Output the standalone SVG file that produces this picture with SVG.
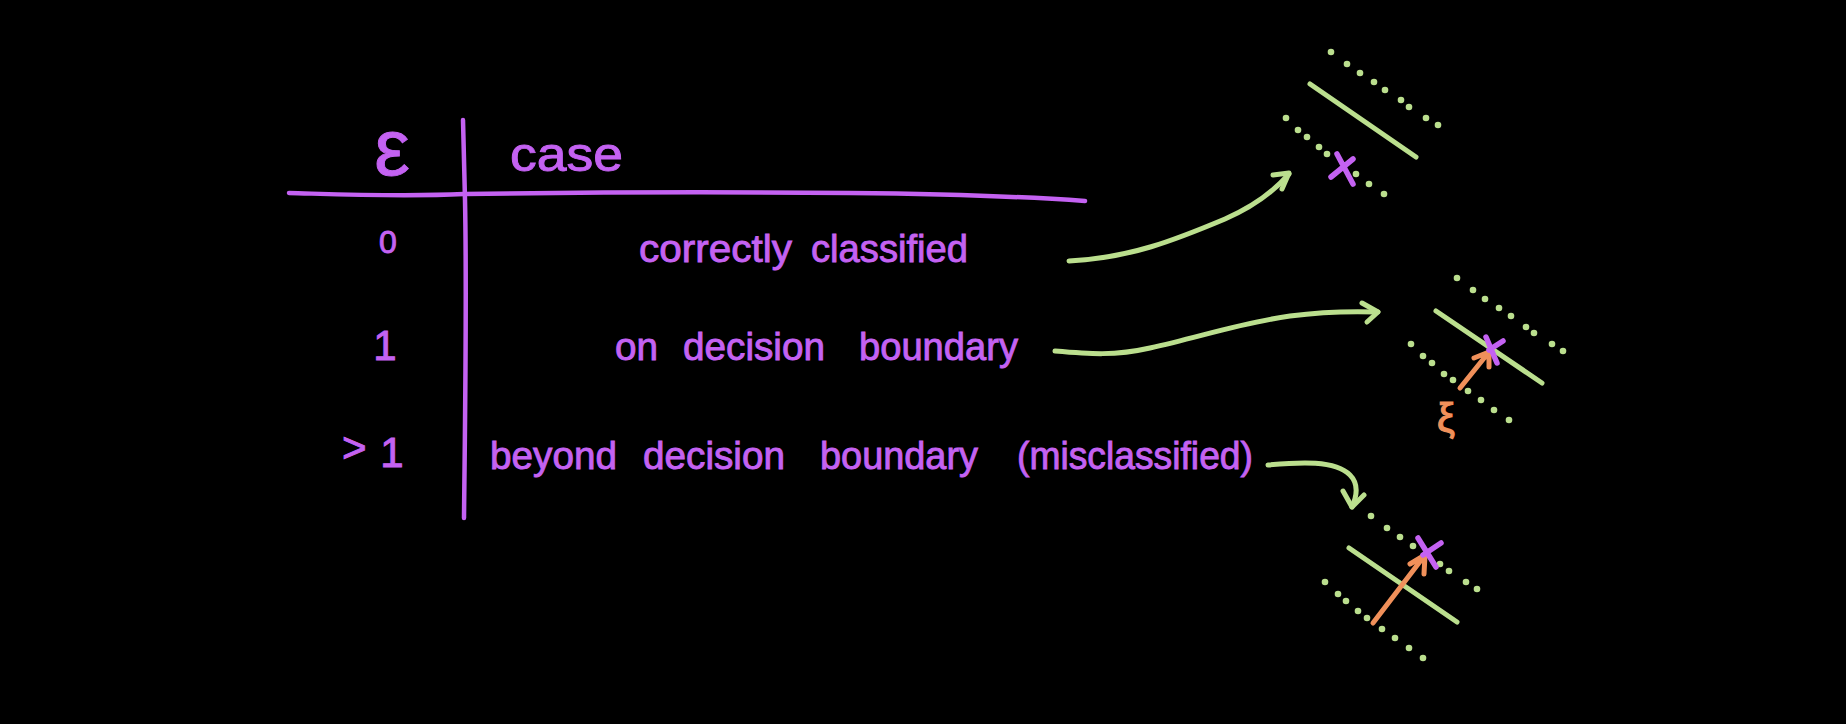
<svg xmlns="http://www.w3.org/2000/svg" width="1846" height="724" viewBox="0 0 1846 724">
<style>
.bg{fill:#000}
.p{fill:#c462f2;stroke:#c462f2;stroke-width:0.9;font-family:"Liberation Sans",Arial,sans-serif;font-size:39px}
.pl{fill:none;stroke:#c462f2;stroke-width:4.5;stroke-linecap:round;stroke-linejoin:round}
.gl{fill:none;stroke:#bbdf8e;stroke-width:5;stroke-linecap:round;stroke-linejoin:round}
.ol{fill:none;stroke:#f0905a;stroke-width:5;stroke-linecap:round;stroke-linejoin:round}
.xl{fill:none;stroke:#c462f2;stroke-width:5.5;stroke-linecap:round}
.d{fill:#bbdf8e}
.o{fill:#f0905a;stroke:#f0905a;stroke-width:1.2;font-family:"Liberation Sans",Arial,sans-serif;font-size:40px}
</style>
<rect class="bg" x="0" y="0" width="1846" height="724"/>

<g id="table">
  <path class="pl" d="M289,193 C330,194 400,197 464,194 C600,192 750,192 850,193 C950,194 1030,197 1085,201"/>
  <path class="pl" d="M463,120 L465,200 C467,300 465,420 464,518"/>
</g>

<g id="header">
  <text class="p" x="392" y="175" style="font-size:80px" text-anchor="middle">ε</text>
  <text class="p" x="510" y="171" style="font-size:48px" textLength="113" lengthAdjust="spacingAndGlyphs">case</text>
</g>

<g id="row0">
  <text class="p" x="388" y="253" style="font-size:32px" text-anchor="middle">0</text>
  <text class="p" y="262"><tspan x="639" textLength="153" lengthAdjust="spacingAndGlyphs">correctly</tspan><tspan x="811" textLength="157" lengthAdjust="spacingAndGlyphs">classified</tspan></text>
</g>

<g id="row1">
  <text class="p" x="385" y="360" style="font-size:42px" text-anchor="middle">1</text>
  <text class="p" y="360"><tspan x="615" textLength="43" lengthAdjust="spacingAndGlyphs">on</tspan><tspan x="683" textLength="142" lengthAdjust="spacingAndGlyphs">decision</tspan><tspan x="859" textLength="159" lengthAdjust="spacingAndGlyphs">boundary</tspan></text>
</g>

<g id="row2">
  <text class="p" style="font-size:42px"><tspan x="342" y="462">&gt;</tspan><tspan x="392" y="467" text-anchor="middle">1</tspan></text>
  <text class="p" y="469"><tspan x="490" textLength="127" lengthAdjust="spacingAndGlyphs">beyond</tspan><tspan x="643" textLength="142" lengthAdjust="spacingAndGlyphs">decision</tspan><tspan x="820" textLength="158" lengthAdjust="spacingAndGlyphs">boundary</tspan><tspan x="1017" textLength="236" lengthAdjust="spacingAndGlyphs">(misclassified)</tspan></text>
</g>

<g id="connectors">
  <path class="gl" d="M1069,261 C1130,258 1175,240 1225,219 C1255,206 1275,190 1289,174"/>
  <path class="gl" d="M1273,175 L1289,173 L1282,189"/>
  <path class="gl" d="M1055,351 C1090,354 1115,356 1150,348 C1200,337 1240,323 1290,316 C1320,312 1350,311 1378,312"/>
  <path class="gl" d="M1362,303 L1378,312 L1367,322"/>
  <path class="gl" d="M1268,465 C1300,462 1335,460 1350,475 C1360,485 1356,498 1352,507"/>
  <path class="gl" d="M1343,491 L1352,507 L1364,495"/>
</g>

<g id="diagram-correct">
  <path class="gl" d="M1310,84 L1416,157"/>
  <circle class="d" cx="1331" cy="52" r="3.3"/><circle class="d" cx="1347" cy="64" r="3.3"/><circle class="d" cx="1360" cy="73" r="3.3"/><circle class="d" cx="1374" cy="82" r="3.3"/><circle class="d" cx="1385" cy="90" r="3.3"/><circle class="d" cx="1401" cy="100" r="3.3"/><circle class="d" cx="1409" cy="107" r="3.3"/><circle class="d" cx="1426" cy="118" r="3.3"/><circle class="d" cx="1438" cy="125" r="3.3"/>
  <circle class="d" cx="1286" cy="118" r="3.3"/><circle class="d" cx="1298" cy="130" r="3.3"/><circle class="d" cx="1307" cy="137" r="3.3"/><circle class="d" cx="1319" cy="147" r="3.3"/><circle class="d" cx="1327" cy="154" r="3.3"/><circle class="d" cx="1356" cy="174" r="3.3"/><circle class="d" cx="1369" cy="184" r="3.3"/><circle class="d" cx="1384" cy="194" r="3.3"/>
  <path class="xl" d="M1337,154 L1353,184 M1331,177 L1353,159"/>
</g>

<g id="diagram-boundary">
  <path class="gl" d="M1436,311 L1542,383"/>
  <circle class="d" cx="1457" cy="278" r="3.3"/><circle class="d" cx="1473" cy="290" r="3.3"/><circle class="d" cx="1485" cy="299" r="3.3"/><circle class="d" cx="1499" cy="308" r="3.3"/><circle class="d" cx="1511" cy="316" r="3.3"/><circle class="d" cx="1526" cy="327" r="3.3"/><circle class="d" cx="1534" cy="333" r="3.3"/><circle class="d" cx="1552" cy="344" r="3.3"/><circle class="d" cx="1563" cy="351" r="3.3"/>
  <circle class="d" cx="1411" cy="344" r="3.3"/><circle class="d" cx="1423" cy="356" r="3.3"/><circle class="d" cx="1432" cy="363" r="3.3"/><circle class="d" cx="1444" cy="374" r="3.3"/><circle class="d" cx="1453" cy="380" r="3.3"/><circle class="d" cx="1468" cy="391" r="3.3"/><circle class="d" cx="1481" cy="400" r="3.3"/><circle class="d" cx="1494" cy="410" r="3.3"/><circle class="d" cx="1509" cy="420" r="3.3"/>
  <path class="ol" d="M1460,388 L1489,352 M1474,358 L1489,352 L1489,367"/>
  <path class="xl" d="M1486,337 L1497,363 M1489,350 L1503,341"/>
  <text class="o" x="1446" y="432" text-anchor="middle">ξ</text>
</g>

<g id="diagram-misclassified">
  <path class="gl" d="M1349,548 L1457,622"/>
  <circle class="d" cx="1371" cy="516" r="3.3"/><circle class="d" cx="1387" cy="528" r="3.3"/><circle class="d" cx="1400" cy="537" r="3.3"/><circle class="d" cx="1413" cy="546" r="3.3"/><circle class="d" cx="1440" cy="564" r="3.3"/><circle class="d" cx="1449" cy="571" r="3.3"/><circle class="d" cx="1466" cy="582" r="3.3"/><circle class="d" cx="1477" cy="589" r="3.3"/>
  <circle class="d" cx="1325" cy="582" r="3.3"/><circle class="d" cx="1338" cy="594" r="3.3"/><circle class="d" cx="1346" cy="601" r="3.3"/><circle class="d" cx="1358" cy="611" r="3.3"/><circle class="d" cx="1367" cy="618" r="3.3"/><circle class="d" cx="1382" cy="629" r="3.3"/><circle class="d" cx="1395" cy="638" r="3.3"/><circle class="d" cx="1409" cy="648" r="3.3"/><circle class="d" cx="1423" cy="658" r="3.3"/>
  <path class="ol" d="M1373,623 L1425,555 M1410,564 L1425,555 L1424,574"/>
  <path class="xl" d="M1418,538 L1436,567 M1423,555 L1441,543"/>
</g>
</svg>
